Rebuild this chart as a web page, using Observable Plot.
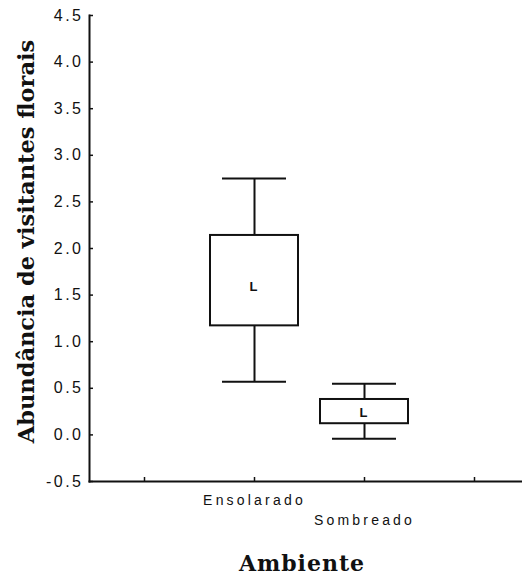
<!DOCTYPE html>
<html>
<head>
<meta charset="utf-8">
<script src="https://cdn.jsdelivr.net/npm/d3@7"></script>
<script src="https://cdn.jsdelivr.net/npm/@observablehq/plot@0.6"></script>
<style>
  html, body { margin: 0; padding: 0; background: #fff; overflow: hidden; }
</style>
</head>
<body>
<div id="chart"></div>
<script>
// Abundância de visitantes florais por ambiente
const ambientes = ["Ensolarado", "Sombreado"];
const medianas = [1.59, 0.24];
const caixaInf = [1.17, 0.12];
const caixaSup = [2.14, 0.38];
const bigodeInf = [0.57, -0.04];
const bigodeSup = [2.75, 0.55];
const yTicks = [-0.5, 0, 0.5, 1, 1.5, 2, 2.5, 3, 3.5, 4, 4.5];

const dados = ambientes.map((a, i) => ({
  ambiente: a,
  mediana: medianas[i],
  q1: caixaInf[i],
  q3: caixaSup[i],
  min: bigodeInf[i],
  max: bigodeSup[i]
}));

// empty slots on both sides so the categories sit in the 2nd and 3rd bands
const dominioX = [" ", ...ambientes, "  "];
const ink = "#111";

const chart = Plot.plot({
  width: 522,
  height: 576,
  marginTop: 15,
  marginBottom: 95,
  marginLeft: 89,
  marginRight: 0,
  style: { fontFamily: "Liberation Sans, Arial, sans-serif", fontSize: "16px", background: "#fff", color: ink },
  x: { type: "band", domain: dominioX, range: [89, 529], padding: 0 },
  y: { domain: [-0.5, 4.5] },
  marks: [
    // inward ticks (shifted inside the frame)
    Plot.axisY({ ticks: yTicks, tickSize: 4, dx: 4, tickFormat: () => "", label: null, strokeWidth: 1.5 }),
    Plot.axisX({ ticks: dominioX, tickSize: 4, dy: -4, tickFormat: () => "", label: null, strokeWidth: 1.5 }),
    // y tick labels
    Plot.axisY({ ticks: yTicks, tickSize: 0, tickPadding: 6, tickFormat: d => d.toFixed(1), label: null,
                 fontSize: 16 }),
    // staggered category labels
    Plot.axisX({ ticks: [ambientes[0]], tickSize: 0, tickPadding: 14, label: null, fontSize: 14 }),
    Plot.axisX({ ticks: [ambientes[1]], tickSize: 0, tickPadding: 34, label: null, fontSize: 14 }),
    // axis lines
    Plot.frame({ anchor: "left", stroke: ink, strokeWidth: 2 }),
    Plot.frame({ anchor: "bottom", stroke: ink, strokeWidth: 2 }),
    // whiskers
    Plot.ruleX(dados, { x: "ambiente", y1: "min", y2: "q1", stroke: ink, strokeWidth: 2 }),
    Plot.ruleX(dados, { x: "ambiente", y1: "q3", y2: "max", stroke: ink, strokeWidth: 2 }),
    Plot.tickY(dados, { x: "ambiente", y: "min", stroke: ink, strokeWidth: 2, insetLeft: 23, insetRight: 23 }),
    Plot.tickY(dados, { x: "ambiente", y: "max", stroke: ink, strokeWidth: 2, insetLeft: 23, insetRight: 23 }),
    // boxes
    Plot.barY(dados, { x: "ambiente", y1: "q1", y2: "q3", fill: "#fff", stroke: ink, strokeWidth: 2,
                       insetLeft: 11, insetRight: 11 }),
    // median marker
    Plot.text(dados, { x: "ambiente", y: "mediana", text: () => "L", fontSize: 13, fontWeight: "bold",
                       fill: ink, dx: -1 }),
    // axis titles
    Plot.text(["Abundância de visitantes florais"], {
      frameAnchor: "left", textAnchor: "middle", text: d => d, rotate: -90, dx: -63, dy: -7,
      fontFamily: "DejaVu Serif", fontWeight: "bold", fontSize: 22.5, fill: ink
    }),
    Plot.text(["Ambiente"], {
      frameAnchor: "bottom", text: d => d, dx: -4, dy: 89,
      fontFamily: "DejaVu Serif", fontWeight: "bold", fontSize: 22, fill: ink
    })
  ]
});

// wide letter spacing of the tick labels and the x title
const svg = d3.select(chart);
svg.selectAll('g[aria-label="y-axis tick label"] text').style("letter-spacing", "2.5px");
svg.selectAll('g[aria-label="x-axis tick label"] text').style("letter-spacing", "3.2px");
svg.selectAll("text").filter(function () { return this.textContent === "Ambiente"; })
  .style("letter-spacing", "1px");

document.getElementById("chart").appendChild(chart);
</script>
</body>
</html>
